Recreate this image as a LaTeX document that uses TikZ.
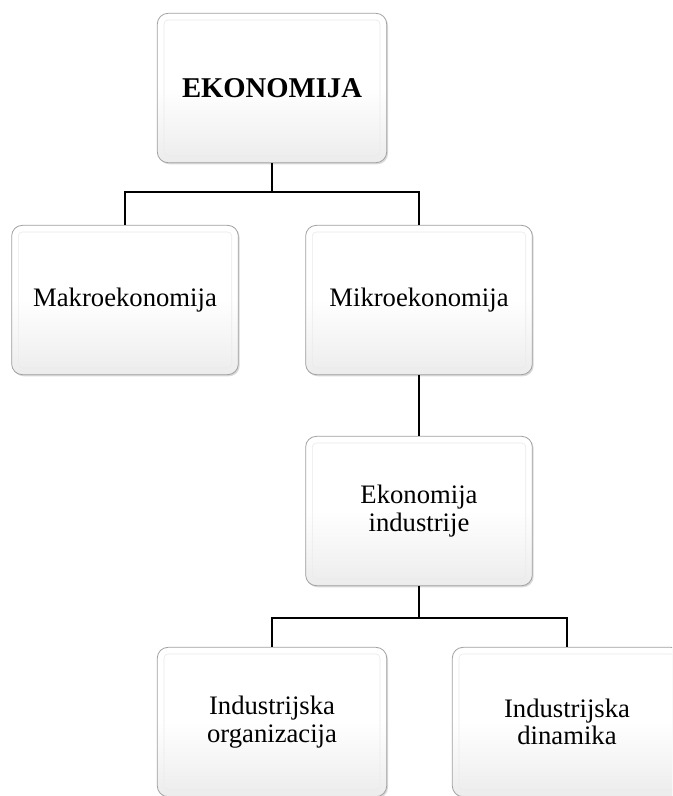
\documentclass[tikz,border=0pt]{standalone}
\usepackage{fontspec}
\setmainfont{Liberation Serif}
\usepackage{tikz}
\usetikzlibrary{positioning,calc,shadows}
\definecolor{boxedge}{RGB}{160,160,160}
\definecolor{boxshade}{RGB}{236,236,236}

\begin{document}
\begin{tikzpicture}[x=.75pt,y=.75pt,
  font=\fontsize{20}{20.5}\selectfont,
  box/.style={draw=boxedge,line width=.6pt,rounded corners=8pt,
    top color=white,bottom color=boxshade,middle color=white,
    minimum width=170pt,minimum height=112pt,align=center,inner sep=2pt,
    drop shadow={opacity=.3,shadow xshift=1pt,shadow yshift=-1.2pt},
    path picture={\draw[white!92!black,line width=.5pt,rounded corners=3pt]
      ([shift={(5pt,-5pt)}]path picture bounding box.north west) rectangle
      ([shift={(-5pt,5pt)}]path picture bounding box.south east);}},
  link/.style={draw=black,line width=1.5pt,line join=miter}]

\useasboundingbox (0,0) rectangle (672,-796);
\clip (0,0) rectangle (672,-796);
\node[box,minimum width=172pt] (eko) at (272,-88) {\textbf{\fontsize{21.5}{22}\selectfont EKONOMIJA}};
\node[box] (makro) at (125,-300) {Makroekonomija};
\node[box] (mikro) at (419,-300) {Mikroekonomija};
\node[box] (ind) at (419,-511) {Ekonomija\\industrije};
\node[box,minimum width=172pt] (org) at (272,-722) {Industrijska\\organizacija};
\node[box,minimum width=172pt] (din) at (567,-722) {Industrijska\\dinamika};
\coordinate (split1) at (272,-192);
\coordinate (split2) at (419,-618);
\draw[link] (eko.south) -- (split1) -| (makro.north);
\draw[link] (split1) -| (mikro.north);
\draw[link] (mikro.south) -- (ind.north);
\draw[link] (ind.south) -- (split2) -| (org.north);
\draw[link] (split2) -| (din.north);

\end{tikzpicture}
\end{document}
